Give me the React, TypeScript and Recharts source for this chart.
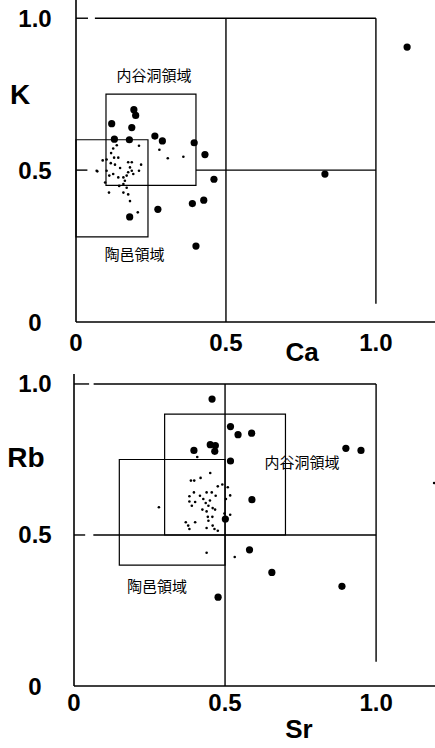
import React from 'react';
import {
    ScatterChart,
    Scatter,
    XAxis,
    YAxis,
    ReferenceLine,
    ReferenceArea,
    ReferenceDot,
} from 'recharts';

// Ca-K diagram: big dots and small dots, [x, y]
const caKLarge = [
    [1.104, 0.905], [0.83, 0.487], [0.193, 0.699], [0.199, 0.68], [0.119, 0.653],
    [0.186, 0.64], [0.128, 0.602], [0.178, 0.6], [0.263, 0.612], [0.288, 0.596],
    [0.394, 0.59], [0.43, 0.551], [0.46, 0.47], [0.388, 0.39], [0.426, 0.401],
    [0.273, 0.371], [0.179, 0.346], [0.4, 0.25],
];
const caKSmall = [
    [0.21, 0.58], [0.278, 0.567], [0.306, 0.539], [0.358, 0.544], [0.124, 0.571],
    [0.136, 0.582], [0.117, 0.556], [0.127, 0.541], [0.141, 0.541], [0.102, 0.535],
    [0.089, 0.532], [0.116, 0.523], [0.13, 0.518], [0.147, 0.507], [0.071, 0.496],
    [0.102, 0.498], [0.111, 0.482], [0.124, 0.487], [0.141, 0.476], [0.158, 0.476],
    [0.174, 0.526], [0.186, 0.526], [0.18, 0.509], [0.174, 0.493], [0.169, 0.482],
    [0.186, 0.498], [0.191, 0.487], [0.217, 0.518], [0.21, 0.498], [0.163, 0.465],
    [0.158, 0.454], [0.097, 0.459], [0.144, 0.448], [0.158, 0.426], [0.11, 0.426],
    [0.174, 0.42], [0.18, 0.398], [0.206, 0.361], [0.169, 0.442], [0.069, 0.498],
];

// Sr-Rb diagram
const srRbLarge = [
    [0.457, 0.95], [0.518, 0.859], [0.543, 0.832], [0.588, 0.837], [0.451, 0.799],
    [0.468, 0.796], [0.466, 0.777], [0.397, 0.78], [0.518, 0.745], [0.9, 0.787],
    [0.95, 0.78], [0.589, 0.617], [0.501, 0.553], [0.581, 0.451], [0.655, 0.376],
    [0.887, 0.33], [0.477, 0.294],
];
const srRbSmall = [
    [1.192, 0.672], [0.439, 0.441], [0.532, 0.427], [0.281, 0.592], [0.451, 0.705],
    [0.408, 0.758], [0.387, 0.68], [0.398, 0.68], [0.419, 0.689], [0.476, 0.661],
    [0.491, 0.667], [0.509, 0.658], [0.397, 0.641], [0.439, 0.641], [0.456, 0.641],
    [0.382, 0.628], [0.417, 0.63], [0.469, 0.63], [0.517, 0.631], [0.503, 0.619],
    [0.382, 0.611], [0.401, 0.609], [0.428, 0.619], [0.436, 0.606], [0.45, 0.614],
    [0.39, 0.597], [0.445, 0.597], [0.459, 0.589], [0.425, 0.584], [0.467, 0.584],
    [0.439, 0.578], [0.498, 0.571], [0.517, 0.567], [0.443, 0.56], [0.458, 0.56],
    [0.445, 0.547], [0.37, 0.542], [0.401, 0.542], [0.378, 0.531], [0.382, 0.52],
    [0.439, 0.523], [0.459, 0.531], [0.465, 0.52], [0.476, 0.514],
];

const axisTicks = [0, 0.5, 1];
const tickText = (v: number) => (v === 0 ? '0' : v.toFixed(1));

const numFont = '"Liberation Sans", Arial, sans-serif';
const cjkFont = '"Noto Sans CJK JP", sans-serif';

const toPts = (arr: number[][]) => arr.map(([x, y]) => ({ x, y }));

const BigDot = (p: any) => <circle cx={p.cx} cy={p.cy} r={3.6} fill="#000" />;
const SmallDot = (p: any) => <circle cx={p.cx} cy={p.cy} r={1.3} fill="#000" />;

interface Box { x1: number; x2: number; y1: number; y2: number }
interface Seg { a: [number, number]; b: [number, number] }
interface Tag { x: number; y: number; text: string }

interface PanelProps {
    large: number[][];
    small: number[][];
    xMax: number;
    yMax: number;
    top: number;
    height: number;
    yAxisWidth: number;
    xAxisHeight: number;
    xTickDy: number;
    boxes: Box[];
    segs: Seg[];
    tags: Tag[];
}

const Panel: React.FC<PanelProps> = (p) => {
    const XTick = (t: any) => (
        <text x={t.x} y={t.y + p.xTickDy} textAnchor="middle" dominantBaseline="central"
            fontFamily={numFont} fontWeight="bold" fontSize={24} fill="#000">
            {tickText(t.payload.value)}
        </text>
    );
    const YTick = (t: any) => (
        <text x={35} y={t.y} textAnchor="middle" dominantBaseline="central"
            fontFamily={numFont} fontWeight="bold" fontSize={24} fill="#000">
            {tickText(t.payload.value)}
        </text>
    );
    return (
        <ScatterChart width={435} height={p.height} margin={{ top: p.top, right: 0, left: 0, bottom: 0 }}>
            <XAxis type="number" dataKey="x" domain={[0, p.xMax]} ticks={axisTicks}
                allowDataOverflow height={p.xAxisHeight} tickLine={false} tickSize={0}
                axisLine={{ stroke: '#000', strokeWidth: 1.6 }} tick={XTick} />
            <YAxis type="number" dataKey="y" domain={[0, p.yMax]} ticks={axisTicks}
                allowDataOverflow width={p.yAxisWidth} tickLine={false} tickSize={0}
                axisLine={{ stroke: '#000', strokeWidth: 1.6 }} tick={YTick} />

            {/* frame lines */}
            {p.segs.map((s, i) => (
                <ReferenceLine key={'s' + i} segment={[{ x: s.a[0], y: s.a[1] }, { x: s.b[0], y: s.b[1] }]}
                    stroke="#000" strokeWidth={1.4} />
            ))}

            {/* region boxes */}
            {p.boxes.map((b, i) => (
                <ReferenceArea key={'b' + i} x1={b.x1} x2={b.x2} y1={b.y1} y2={b.y2}
                    fill="none" stroke="#000" strokeWidth={1.2} />
            ))}

            {p.tags.map((t, i) => (
                <ReferenceDot key={'t' + i} x={t.x} y={t.y} r={0} fill="none" stroke="none"
                    label={{ value: t.text, position: 'center', fill: '#000', fontSize: 15, fontFamily: cjkFont }} />
            ))}

            <Scatter data={toPts(p.small)} shape={SmallDot} isAnimationActive={false} />
            <Scatter data={toPts(p.large)} shape={BigDot} isAnimationActive={false} />
        </ScatterChart>
    );
};

const titleStyle: React.CSSProperties = {
    position: 'absolute',
    fontFamily: numFont,
    fontWeight: 'bold',
    color: '#000',
    lineHeight: 1,
    transform: 'translate(-50%, -50%)',
};

const App: React.FC = () => {
    return (
        <div style={{ position: 'absolute', left: 0, top: 0, width: 435, height: 748, background: '#fff' }}>
            <div style={{ position: 'absolute', left: 0, top: 0 }}>
                <Panel
                    large={caKLarge}
                    small={caKSmall}
                    xMax={1.197}
                    yMax={1.06}
                    top={0}
                    height={374}
                    yAxisWidth={76}
                    xAxisHeight={52}
                    xTickDy={18}
                    boxes={[
                        { x1: 0.1, x2: 0.4, y1: 0.45, y2: 0.75 },
                        { x1: 0, x2: 0.24, y1: 0.28, y2: 0.6 },
                    ]}
                    segs={[
                        { a: [0, 1], b: [0.04, 1] },
                        { a: [0.063, 1], b: [1, 1] },
                        { a: [0, 0.5], b: [0.038, 0.5] },
                        { a: [0.4, 0.5], b: [1, 0.5] },
                        { a: [0.5, 0], b: [0.5, 1] },
                        { a: [1, 0.06], b: [1, 1] },
                    ]}
                    tags={[
                        { x: 0.26, y: 0.81, text: '内谷洞領域' },
                        { x: 0.195, y: 0.22, text: '陶邑領域' },
                    ]}
                />
                <div style={{ ...titleStyle, left: 20, top: 95, fontSize: 28 }}>K</div>
                <div style={{ ...titleStyle, left: 302, top: 352, fontSize: 26 }}>Ca</div>
            </div>
            <div style={{ position: 'absolute', left: 0, top: 360 }}>
                <Panel
                    large={srRbLarge}
                    small={srRbSmall}
                    xMax={1.195}
                    yMax={1.033}
                    top={14}
                    height={388}
                    yAxisWidth={74}
                    xAxisHeight={62}
                    xTickDy={14}
                    boxes={[
                        { x1: 0.3, x2: 0.7, y1: 0.5, y2: 0.9 },
                        { x1: 0.15, x2: 0.5, y1: 0.4, y2: 0.75 },
                    ]}
                    segs={[
                        { a: [0, 1], b: [0.05, 1] },
                        { a: [0.065, 1], b: [1, 1] },
                        { a: [0, 0.5], b: [0.037, 0.5] },
                        { a: [0.064, 0.5], b: [1, 0.5] },
                        { a: [0.5, 0], b: [0.5, 1] },
                        { a: [1, 0.08], b: [1, 1] },
                    ]}
                    tags={[
                        { x: 0.755, y: 0.74, text: '内谷洞領域' },
                        { x: 0.275, y: 0.33, text: '陶邑領域' },
                    ]}
                />
                <div style={{ ...titleStyle, left: 26, top: 98, fontSize: 28 }}>Rb</div>
                <div style={{ ...titleStyle, left: 299, top: 369, fontSize: 26 }}>Sr</div>
            </div>
        </div>
    );
};

export default App;
